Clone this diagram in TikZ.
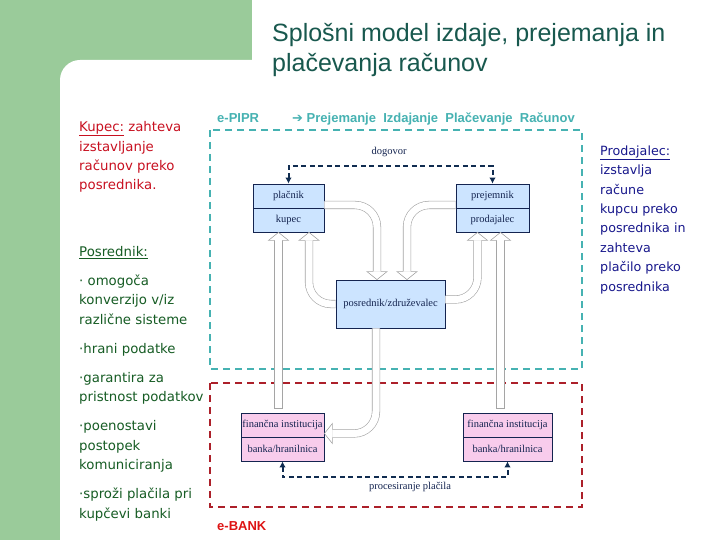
\documentclass[tikz,border=0pt]{standalone}
\usepackage{fontspec}
\setmainfont{Liberation Serif}
\setsansfont{Liberation Sans}
\newfontfamily\notefont{DejaVu Sans}
\usetikzlibrary{arrows.meta}

\definecolor{bggreen}{RGB}{154,203,154}
\definecolor{titleteal}{RGB}{24,88,78}
\definecolor{tealhead}{RGB}{70,178,178}
\definecolor{buyerred}{RGB}{200,16,32}
\definecolor{agentgreen}{RGB}{22,92,36}
\definecolor{sellerblue}{RGB}{24,24,140}
\definecolor{bankred}{RGB}{222,20,20}
\definecolor{zonered}{RGB}{172,32,42}
\definecolor{boxblue}{RGB}{204,228,255}
\definecolor{boxpink}{RGB}{248,204,236}
\definecolor{boxline}{RGB}{20,36,80}
\definecolor{navy}{RGB}{16,44,80}
\definecolor{arrowgray}{RGB}{165,165,165}

\tikzset{
  box/.style={draw=boxline, line width=0.8pt, minimum height=24pt, inner sep=0pt,
    text=boxline, font=\fontsize{10.5}{12}\selectfont},
  buyerbox/.style={box, fill=boxblue, minimum width=71pt},
  sellerbox/.style={box, fill=boxblue, minimum width=73pt},
  bankbox/.style={box, fill=boxpink},
  note/.style={align=left, inner sep=0pt, font=\notefont\fontsize{13.3}{19.5}\selectfont},
  head/.style={inner sep=0pt, font=\sffamily\bfseries\fontsize{13}{15}\selectfont},
  labeltext/.style={inner sep=0pt, text=boxline, font=\fontsize{10.5}{12}\selectfont},
  tealzone/.style={draw=tealhead, line width=1.6pt, dash pattern=on 7pt off 5pt},
  redzone/.style={draw=zonered, line width=1.6pt, dash pattern=on 7pt off 5pt},
  dasharrow/.style={draw=navy, line width=2pt, dash pattern=on 5pt off 3.5pt,
    {Latex[length=6pt,width=6.5pt]}-{Latex[length=6pt,width=6.5pt]}},
  hollow/.style={draw=arrowgray, double=white, double distance=7pt, line width=0.6pt,
    rounded corners=22pt},
  hhead/.pic={
    \fill[white] (-10,0) -- (0,8) -- (10,0) -- cycle;
    \draw[arrowgray, line width=0.6pt] (-3.8,0) -- (-10,0) -- (0,8) -- (10,0) -- (3.8,0);
  },
  hcap/.pic={\draw[arrowgray, line width=0.6pt] (-3.8,0) -- (3.8,0);}
}
\newcommand{\thickul}[1]{\underline{#1}}

\begin{document}
\begin{tikzpicture}[x=1pt,y=-1pt]
  \useasboundingbox (0,0) rectangle (720,540);
  % backdrop of the slide
  \fill[bggreen] (0,0) rectangle (252,80);
  \fill[bggreen] (0,0) rectangle (60,540);
  \fill[white, rounded corners=20pt] (60,60) rectangle (760,580);

  % multi-line nodes: the base anchor sits on the last line
  \node[anchor=base west, align=left, inner sep=0pt, text=titleteal,
    font=\sffamily\fontsize{25}{30}\selectfont] (title) at (272,72)
    {Splošni model izdaje, prejemanja in\\plačevanja računov};

  % notes at the sides
  \node[note, text=buyerred, anchor=base west] (kupecnote) at (79,190)
    {\thickul{Kupec:} zahteva\\izstavljanje\\računov preko\\posrednika.};
  \node[note, text=agentgreen, anchor=base west] (posrnote) at (79,518)
    {\thickul{Posrednik:}\\[9pt]· omogoča\\konverzijo v/iz\\različne sisteme\\[9.5pt]%
     ·hrani podatke\\[9.5pt]·garantira za\\pristnost podatkov\\[9.5pt]%
     ·poenostavi\\postopek\\komuniciranja\\[9.5pt]·sproži plačila pri\\kupčevi banki};
  \node[note, text=sellerblue, anchor=base west,
    font=\notefont\fontsize{12.7}{19.4}\selectfont] (prodnote) at (600,291)
    {\thickul{Prodajalec:}\\izstavlja\\račune\\kupcu preko\\posrednika in\\zahteva\\plačilo preko\\posrednika};

  % zones
  \node[head, text=tealhead, anchor=base west] (pipr) at (217,123) {e-PIPR};
  \node[head, text=tealhead, anchor=base west] (pipritems) at (292,123)
    {{\notefont ➔} Prejemanje\ \ Izdajanje\ \ Plačevanje\ \ Računov};
  \draw[tealzone] (210,130) rectangle (582,369);
  \draw[redzone] (210,383) rectangle (582,507);
  \node[head, text=bankred, anchor=base west] (ebank) at (217,530) {e-BANK};

  % parties
  \node[buyerbox] (placnik) at (288.5,196) {plačnik};
  \node[buyerbox] (kupec) at (288.5,220) {kupec};
  \node[sellerbox] (prejemnik) at (492.5,196) {prejemnik};
  \node[sellerbox] (prodajalec) at (492.5,220) {prodajalec};
  \node[box, fill=boxblue, minimum width=109pt, minimum height=48pt] (posrednik)
    at (390.5,304) {posrednik/združevalec};
  \node[bankbox, minimum width=83pt] (financaL) at (282.5,425) {finančna institucija};
  \node[bankbox, minimum width=83pt] (bankaL) at (282.5,449) {banka/hranilnica};
  \node[bankbox, minimum width=89pt] (financaR) at (507.5,425) {finančna institucija};
  \node[bankbox, minimum width=89pt] (bankaR) at (507.5,449) {banka/hranilnica};

  % flows through the intermediary
  \draw[hollow] ([yshift=-9pt]placnik.east) -| ([xshift=-13.5pt,yshift=8pt]posrednik.north);
  \pic at ([xshift=-13.5pt,yshift=8pt]posrednik.north) {hhead};
  \draw[hollow] ([yshift=-9pt]prejemnik.west) -| ([xshift=16.5pt,yshift=8pt]posrednik.north);
  \pic at ([xshift=16.5pt,yshift=8pt]posrednik.north) {hhead};
  \draw[hollow] (posrednik.west) -| ([xshift=20.5pt,yshift=-8pt]kupec.south);
  \pic[rotate=180] at ([xshift=20.5pt,yshift=-8pt]kupec.south) {hhead};
  \draw[hollow] ([yshift=4.5pt]posrednik.east) -| ([xshift=-15pt,yshift=-8pt]prodajalec.south);
  \pic[rotate=180] at ([xshift=-15pt,yshift=-8pt]prodajalec.south) {hhead};
  \draw[hollow] ([xshift=-14.5pt]posrednik.south) |- ([xshift=8pt,yshift=-8.5pt]financaL.east);
  \pic[rotate=-90] at ([xshift=8pt,yshift=-8.5pt]financaL.east) {hhead};
  % banks up to the parties
  \draw[hollow] ([xshift=-4pt,yshift=4pt]financaL.north) -- ([xshift=-10pt,yshift=-8pt]kupec.south);
  \pic at ([xshift=-4pt,yshift=4pt]financaL.north) {hcap};
  \pic[rotate=180] at ([xshift=-10pt,yshift=-8pt]kupec.south) {hhead};
  \draw[hollow] ([xshift=-7pt,yshift=4pt]financaR.north) -- ([xshift=8pt,yshift=-8pt]prodajalec.south);
  \pic at ([xshift=-7pt,yshift=4pt]financaR.north) {hcap};
  \pic[rotate=180] at ([xshift=8pt,yshift=-8pt]prodajalec.south) {hhead};

  % agreements
  \draw[dasharrow] (placnik.north) -- ++(0,-18) -| (prejemnik.north);
  \node[labeltext] (dogovor) at (389,152) {dogovor};
  \draw[dasharrow] (bankaL.south) -- ++(0,16) -| (bankaR.south);
  \node[labeltext] (procesiranje) at (410,487) {procesiranje plačila};
\end{tikzpicture}
\end{document}
